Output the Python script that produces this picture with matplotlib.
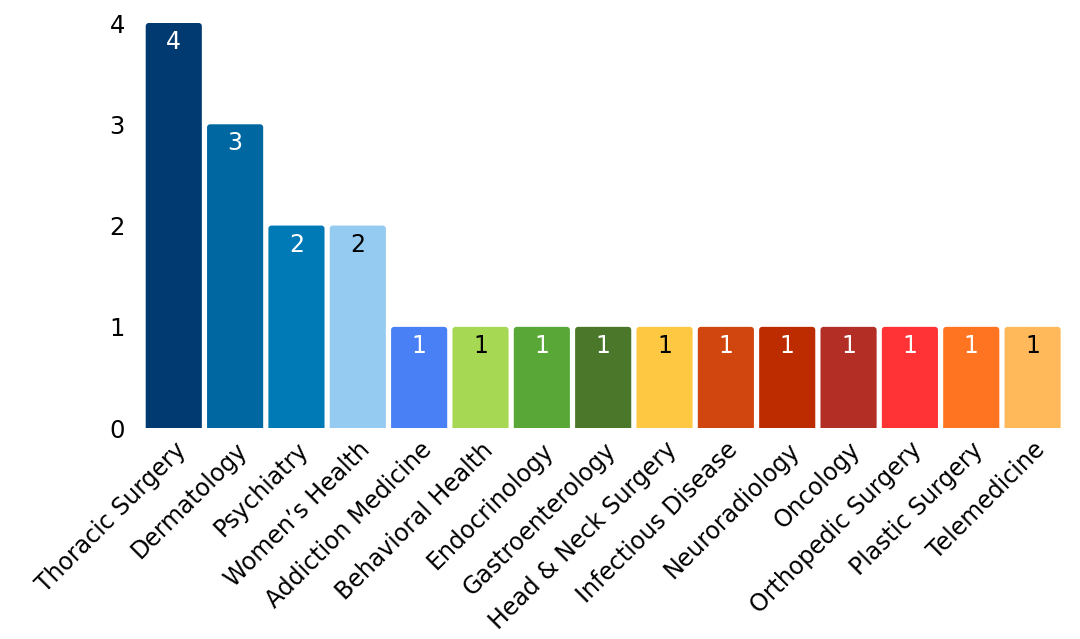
import matplotlib
matplotlib.use("Agg")
import matplotlib.pyplot as plt
from matplotlib.patches import FancyBboxPatch

categories = ["Thoracic Surgery", "Dermatology", "Psychiatry", "Women’s Health",
              "Addiction Medicine", "Behavioral Health", "Endocrinology",
              "Gastroenterology", "Head & Neck Surgery", "Infectious Disease",
              "Neuroradiology", "Oncology", "Orthopedic Surgery", "Plastic Surgery",
              "Telemedicine"]
values = [4, 3, 2, 2, 1, 1, 1, 1, 1, 1, 1, 1, 1, 1, 1]
colors = ["#003a70", "#0067a0", "#007ab6", "#95cbf1", "#4a80f5", "#a6d854",
          "#58a737", "#4a772a", "#ffc843", "#d0460e", "#bd2c00", "#b32f26",
          "#ff3236", "#ff7420", "#ffb95a"]
label_colors = ["white", "white", "white", "black", "white", "black", "white",
                "white", "black", "white", "white", "white", "white", "white", "black"]
yticks = [0, 1, 2, 3, 4]

plt.rcParams['font.family'] = ['DejaVu Sans']

fig = plt.figure(figsize=(10.8, 6.39), dpi=100)
ax = fig.add_axes([0.1325, 0.330, 0.852, 0.634])

x = list(range(len(categories)))
bars = ax.bar(x, values, width=0.915, color=colors)
ax.set_xlim(-0.5, len(categories) - 0.5)
ax.set_ylim(0, 4)

# replace with slightly rounded top corners
for rect, c in zip(bars, colors):
    rect.set_visible(False)
    bx, by, bw, bh = rect.get_x(), rect.get_y(), rect.get_width(), rect.get_height()
    p = FancyBboxPatch((bx, by - 0.1), bw, bh + 0.1,
                       boxstyle="round,pad=0,rounding_size=0.05",
                       mutation_aspect=0.6, facecolor=c, edgecolor="none",
                       clip_on=True)
    ax.add_patch(p)
    p.set_clip_path(ax.patch)

for xi, v, lc in zip(x, values, label_colors):
    ax.annotate(str(v), (xi, v), xytext=(0, -5), textcoords="offset points",
                ha="center", va="top", fontsize=17, color=lc)

for s in ax.spines.values():
    s.set_visible(False)
ax.set_yticks(yticks)
ax.set_yticklabels([str(t) for t in yticks], fontsize=17.5)
ax.tick_params(axis="both", length=0)
ax.tick_params(axis="y", pad=13)
ax.set_xticks(x)
ax.set_xticklabels(categories, rotation=45, ha="right", rotation_mode="anchor",
                   fontsize=17)
ax.tick_params(axis="x", pad=7)

fig.savefig("out.png", dpi=100)
